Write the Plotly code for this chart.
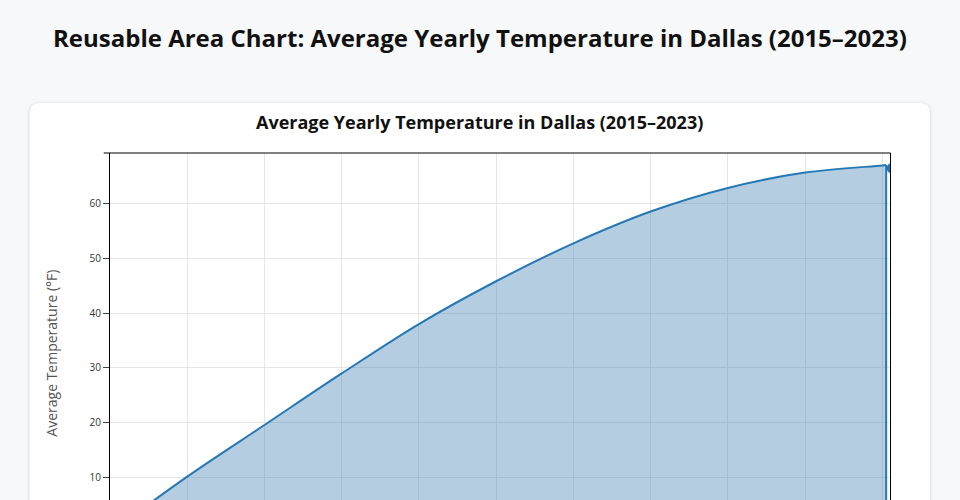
import plotly.graph_objects as go

# ---- data ----
x_index = [0, 1, 2, 3, 4, 5, 6, 7, 8, 9, 10, 10.05]
avg_temp = [0.0, 10.2, 19.6, 29.0, 38.0, 45.8, 52.7, 58.5, 62.8, 65.6, 66.9, 67.0]
drop_x = [10.05, 10.05]
drop_y = [67.0, 0.0]
end_marker_x = [10.12]
end_marker_y = [66.4]

page_title = "Reusable Area Chart: Average Yearly Temperature in Dallas (2015–2023)"
chart_title = "Average Yearly Temperature in Dallas (2015–2023)"
y_title = "Average Temperature (°F)"

# ---- geometry ----
FW, FH = 960, 500
L, R, T, B = 110.3, 890.0, 153.0, 500.0
W, H = R - L, B - T


def px(x):
    return (x - L) / W


def py(y):
    return (B - y) / H


def rounded_rect(x0, y0, x1, y1, r):
    return (
        f"M {px(x0 + r)} {py(y0)} L {px(x1 - r)} {py(y0)} "
        f"Q {px(x1)} {py(y0)} {px(x1)} {py(y0 + r)} "
        f"L {px(x1)} {py(y1 - r)} Q {px(x1)} {py(y1)} {px(x1 - r)} {py(y1)} "
        f"L {px(x0 + r)} {py(y1)} Q {px(x0)} {py(y1)} {px(x0)} {py(y1 - r)} "
        f"L {px(x0)} {py(y0 + r)} Q {px(x0)} {py(y0)} {px(x0 + r)} {py(y0)} Z"
    )


LINE_COLOR = "#2478b5"

fig = go.Figure()
fig.add_trace(go.Scatter(
    x=x_index, y=avg_temp, mode="lines",
    line=dict(color=LINE_COLOR, width=2, shape="spline", smoothing=1.0),
    fill="tozeroy", fillcolor="rgba(70,130,180,0.4)",
    hoverinfo="skip", showlegend=False,
))
fig.add_trace(go.Scatter(
    x=drop_x, y=drop_y, mode="lines",
    line=dict(color=LINE_COLOR, width=2),
    hoverinfo="skip", showlegend=False,
))
fig.add_trace(go.Scatter(
    x=end_marker_x, y=end_marker_y, mode="markers", cliponaxis=True,
    marker=dict(color=LINE_COLOR, size=10), showlegend=False, hoverinfo="skip",
))

shapes = []
# card shadow + card
for grow, alpha in [(3, 0.015), (2, 0.02), (1, 0.035)]:
    shapes.append(dict(type="path", xref="paper", yref="paper", layer="below",
                       path=rounded_rect(30 - grow, 103 - grow + 1, 930 + grow, 600, 10 + grow),
                       fillcolor=f"rgba(0,0,0,{alpha})", line=dict(width=0)))
shapes.append(dict(type="path", xref="paper", yref="paper", layer="below",
                   path=rounded_rect(30, 103, 930, 600, 10),
                   fillcolor="white", line=dict(width=0)))
# top border line (with outer tick)
shapes.append(dict(type="line", xref="paper", yref="paper", layer="above",
                   x0=px(104), x1=px(890.5), y0=1, y1=1,
                   line=dict(color="black", width=1)))

annotations = [
    dict(text=f"<b>{page_title}</b>", x=px(480), y=py(37.5), xref="paper", yref="paper",
         showarrow=False, xanchor="center", yanchor="middle",
         font=dict(family="Open Sans", size=24, color="#111111")),
    dict(text=f"<b>{chart_title}</b>", x=px(480), y=py(122), xref="paper", yref="paper",
         showarrow=False, xanchor="center", yanchor="middle",
         font=dict(family="Open Sans", size=18, color="#111111")),
    dict(text=y_title, x=px(51), y=py(353), xref="paper", yref="paper",
         showarrow=False, xanchor="center", yanchor="middle", textangle=-90,
         font=dict(family="Open Sans", size=14, color="#555555")),
]

fig.update_layout(
    width=FW, height=FH,
    margin=dict(l=L, r=FW - R, t=T, b=FH - B, pad=0),
    paper_bgcolor="#f7f8fa", plot_bgcolor="white",
    shapes=shapes, annotations=annotations,
    font=dict(family="Open Sans", size=11, color="#333333"),
    showlegend=False,
)
fig.update_xaxes(range=[0, W / 77.2], dtick=1, tick0=0, showgrid=True,
                 gridcolor="#e6e6e6", gridwidth=1, zeroline=False,
                 showline=False, showticklabels=False, ticks="")
fig.update_yaxes(range=[(532.6 - B) / 5.488, (532.6 - T) / 5.488], dtick=10, tick0=0,
                 showgrid=True, gridcolor="#e6e6e6", gridwidth=1, zeroline=False,
                 showline=True, mirror=True, linecolor="black", linewidth=1,
                 ticks="outside", ticklen=6, tickcolor="#444444", tickwidth=1,
                 tickfont=dict(family="Open Sans", size=10, color="#333333"))

fig.write_html(
    "out.html",
    config={"displayModeBar": False},
    post_script="document.body.style.margin='0px';document.body.style.overflow='hidden';",
)
